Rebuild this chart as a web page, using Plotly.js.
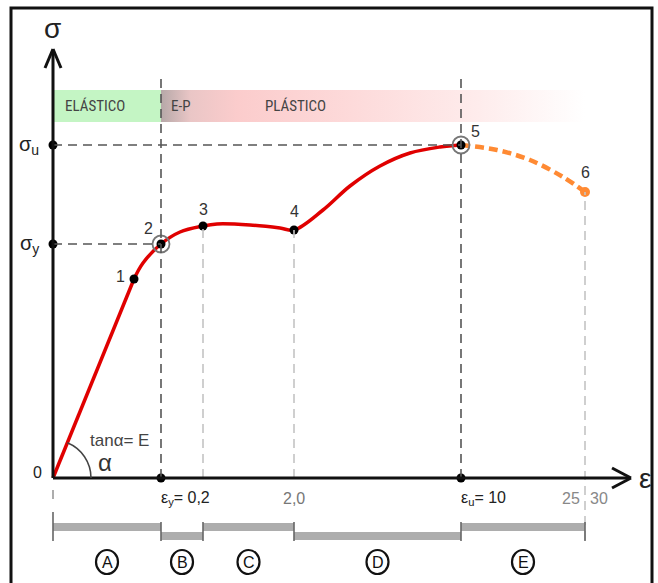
<!DOCTYPE html>
<html>
<head>
<meta charset="utf-8">
<script src="https://cdn.plot.ly/plotly-3.0.1.min.js"></script>
<style>html,body{margin:0;padding:0;background:#fff;}#chart{width:658px;height:583px;}</style>
</head>
<body>
<div id="chart"></div>
<script>
// ---- DATA (schematic diagram units: origin at 0,0; strain → right, stress → up) ----
const pointLabels = ['1', '2', '3', '4', '5', '6'];
const pointX = [81, 108, 150, 241, 408, 532];
const pointY = [199, 234, 252, 248, 333, 286];

// elastic (straight) branch: origin → point 1
const elasticX = [0, 81];
const elasticY = [0, 199];
// hardening curve: point 1 → point 5
const curveX = [81, 90, 108, 127, 150, 164, 197, 227, 241, 270, 297, 327, 357, 387, 408];
const curveY = [199, 215, 234, 246, 252, 254, 253, 250, 248, 268, 292, 312, 325, 331, 333];
// necking (dashed) branch: point 5 → point 6
const neckX = [408, 444, 477, 510, 532];
const neckY = [333, 328, 318, 301, 286];

// strain axis labels
const strainTickX = [132, 241, 430, 529, 535];
const strainTickText = ['ε<sub>y</sub>= 0,2', '2,0', 'ε<sub>u</sub>= 10', '25', '30'];
// stress axis labels
const stressTickY = [333, 234];
const stressTickText = ['σ<sub>u</sub>', 'σ<sub>y</sub>'];

// stages below the axis
const stageNames = ['A', 'B', 'C', 'D', 'E'];
const stageStart = [0, 108, 150, 241, 408];
const stageEnd = [108, 150, 241, 408, 532];
const stageUpper = [true, false, true, false, true];

// behaviour band
const bandNames = ['ELÁSTICO', 'E-P', 'PLÁSTICO'];
const bandTextX = [42, 128, 242];

// ---- BUILD ----
const shapes = [];
const annotations = [];
const F = 'Liberation Sans, Arial, sans-serif';
const FN = 'Liberation Sans Narrow, Roboto Condensed, Liberation Sans, Arial, sans-serif';
const yTop = 400, bandLo = 356, bandHi = 388;

function line(x0, y0, x1, y1, color, width, dash, layer) {
  shapes.push({type: 'line', x0, y0, x1, y1, layer: layer || 'above',
    line: {color, width, dash: dash || 'solid'}});
}
function text(x, y, t, size, color, opts) {
  annotations.push(Object.assign({x, y, text: t, showarrow: false, xanchor: 'center', yanchor: 'middle',
    font: {family: F, size, color}}, opts || {}));
}

// green elastic band
shapes.push({type: 'rect', x0: 0, x1: pointX[1], y0: bandLo, y1: bandHi, layer: 'below',
  fillcolor: 'rgb(196,245,196)', line: {width: 0}});

// guide lines
const p2 = 1, p3 = 2, p4 = 3, p5 = 4, p6 = 5;
line(0, pointY[p5], pointX[p5], pointY[p5], '#555', 1.6, '9px,6px');
line(0, pointY[p2], pointX[p2], pointY[p2], '#555', 1.6, '9px,6px');
line(pointX[p2], 0, pointX[p2], yTop, '#555', 1.6, '9px,6px');
line(pointX[p5], 0, pointX[p5], yTop, '#555', 1.6, '9px,6px');
line(pointX[p3], 0, pointX[p3], pointY[p3], '#c4c4c4', 1.6, '9px,6px');
line(pointX[p4], 0, pointX[p4], pointY[p4], '#c4c4c4', 1.6, '9px,6px');
line(pointX[p6], -62, pointX[p6], pointY[p6], '#c4c4c4', 1.6, '9px,6px');
line(0, -12, 0, -24, '#999', 1.6, '9px,6px');

// stage bars
for (let i = 0; i < stageNames.length; i++) {
  const y0 = stageUpper[i] ? -53 : -62, y1 = stageUpper[i] ? -45 : -54;
  shapes.push({type: 'rect', x0: stageStart[i], x1: stageEnd[i], y0, y1, layer: 'below',
    fillcolor: '#adadad', line: {width: 0}});
  const cx = (stageStart[i] + stageEnd[i]) / 2;
  shapes.push({type: 'circle', x0: cx - 11, x1: cx + 11, y0: -96, y1: -72,
    line: {color: '#111', width: 2.2}});
  text(cx, -84, stageNames[i], 16, '#111');
}
const bounds = [0].concat(stageEnd);
bounds.forEach((b, i) => line(b, i === 0 ? -34 : -44, b, -63, '#666', 1.6));

// axes with arrow heads
line(0, 0, 0, 428, '#111', 3);
line(-8, 410, 0, 429, '#111', 3);
line(8, 410, 0, 429, '#111', 3);
line(0, 0, 577, 0, '#111', 3);
line(559, 10, 578, 0, '#111', 3);
line(559, -10, 578, 0, '#111', 3);

// angle arc (from slope of elastic branch)
const th = Math.atan2(elasticY[1], elasticX[1]), r = 38, k = 4 / 3 * Math.tan(th / 4);
const c = Math.cos(th), s = Math.sin(th);
shapes.push({type: 'path', layer: 'above', line: {color: '#444', width: 1.5},
  path: `M ${r} 0 C ${r} ${k * r} ${r * (c + k * s)} ${r * (s - k * c)} ${r * c} ${r * s}`});

// outer frame
shapes.push({type: 'rect', x0: -42, x1: 599, y0: -110, y1: 470, layer: 'above',
  line: {color: '#111', width: 3}});

// texts
bandNames.forEach((t, i) => text(bandTextX[i], 372, t, 15, '#444', {font: {family: FN, size: 15, color: '#444'}}));
text(-1, 450, 'σ', 28, '#222');
text(592, 0, 'ε', 28, '#222');
text(-16, 6, '0', 16, '#222');
stressTickY.forEach((y, i) => text(-12, y, stressTickText[i], 20, '#222', {xanchor: 'right'}));
text(strainTickX[0], -20, strainTickText[0], 16, '#222');
text(strainTickX[1], -20, strainTickText[1], 16, '#777');
text(strainTickX[2], -20, strainTickText[2], 16, '#222');
text(strainTickX[3], -20, strainTickText[3], 16, '#888', {xanchor: 'right'});
text(strainTickX[4], -20, strainTickText[4], 16, '#888', {xanchor: 'left'});
text(66, 38, 'tanα= E', 17, '#444');
text(52, 16, 'α', 24, '#333');
const lblDX = [-14, -13, 0, 0, 14, 0], lblDY = [3, 16, 17, 19, 14, 20];
pointLabels.forEach((t, i) => text(pointX[i] + lblDX[i], pointY[i] + lblDY[i], t, 16, '#333'));

// ---- TRACES ----
const traces = [
  {x: [pointX[1], 532, 532, pointX[1], pointX[1]], y: [bandLo, bandLo, bandHi, bandHi, bandLo],
   type: 'scatter', mode: 'lines', fill: 'toself', line: {width: 0}, hoverinfo: 'skip',
   fillcolor: 'rgba(252,210,210,0.8)',
   fillgradient: {type: 'horizontal', colorscale: [[0, 'rgb(182,168,168)'], [0.07, 'rgb(234,198,198)'],
     [0.18, 'rgb(251,204,204)'], [0.45, 'rgb(253,218,218)'], [0.75, 'rgb(254,236,236)'], [1, 'rgb(255,255,255)']]}},
  {x: elasticX, y: elasticY, type: 'scatter', mode: 'lines', line: {color: '#e00000', width: 3.5}, hoverinfo: 'skip'},
  {x: curveX, y: curveY, type: 'scatter', mode: 'lines', line: {color: '#e00000', width: 3.5, shape: 'spline', smoothing: 1}, hoverinfo: 'skip'},
  {x: neckX, y: neckY, type: 'scatter', mode: 'lines', line: {color: '#ff8a33', width: 4.5, dash: '9px,5px', shape: 'spline'}, hoverinfo: 'skip'},
  // rings at yield and ultimate points
  {x: [pointX[1], pointX[4]], y: [pointY[1], pointY[4]], type: 'scatter', mode: 'markers',
   marker: {symbol: 'circle-open', size: 17, color: '#777', line: {width: 1.8}}, hoverinfo: 'skip'},
  {x: pointX.slice(0, 5), y: pointY.slice(0, 5), type: 'scatter', mode: 'markers',
   marker: {color: '#000', size: 9}, hoverinfo: 'skip'},
  {x: [pointX[5]], y: [pointY[5]], type: 'scatter', mode: 'markers',
   marker: {color: '#ff8a33', size: 10}, hoverinfo: 'skip'},
  // dots on the axes
  {x: [0, 0, pointX[1], pointX[4]], y: [pointY[4], pointY[1], 0, 0], type: 'scatter', mode: 'markers',
   marker: {color: '#000', size: 9}, hoverinfo: 'skip'}
];

const layout = {
  width: 658, height: 583, margin: {l: 0, r: 0, t: 0, b: 0},
  paper_bgcolor: '#fff', plot_bgcolor: '#fff', showlegend: false,
  xaxis: {range: [-53, 605], visible: false, fixedrange: true},
  yaxis: {range: [-105, 478], visible: false, fixedrange: true},
  shapes, annotations
};
Plotly.newPlot('chart', traces, layout, {staticPlot: true, displayModeBar: false});
</script>
</body>
</html>
